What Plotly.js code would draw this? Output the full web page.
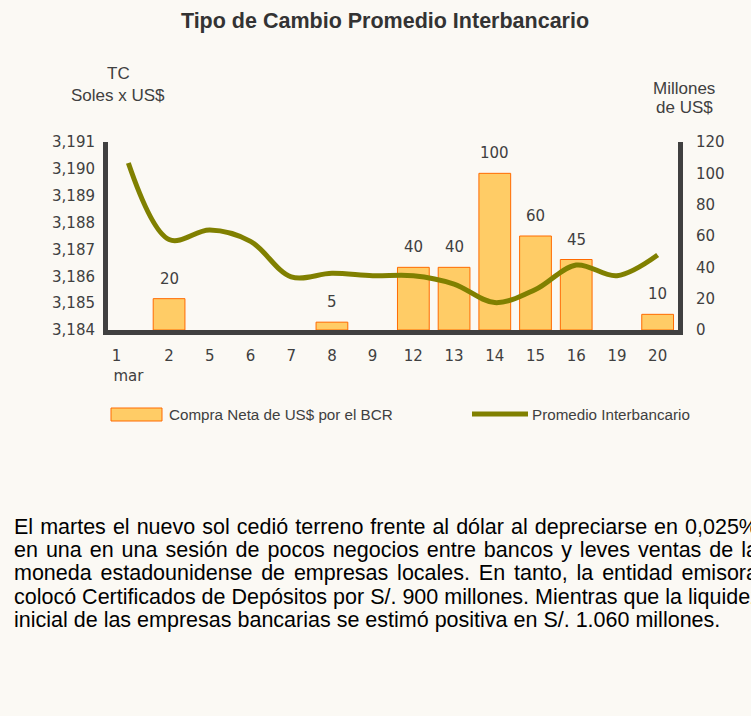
<!DOCTYPE html>
<html>
<head>
<meta charset="utf-8">
<script src="https://cdn.plot.ly/plotly-3.0.1.min.js"></script>
<style>
html,body{margin:0;padding:0;background:#fbf9f4;}
#chart{width:751px;height:716px;}
</style>
</head>
<body>
<div id="chart"></div>
<script>
// ---- data ----
const days = ["1","2","5","6","7","8","9","12","13","14","15","16","19","20"];
const dayLabels = ["1\u00a0\u00a0\u00a0\u00a0\u00a0<br>mar","2","5","6","7","8","9","12","13","14","15","16","19","20"];
const compraNeta = [0,20,0,0,0,5,0,40,40,100,60,45,0,10];
const promedio = [3.19022,3.18737,3.18772,3.18730,3.18598,3.18611,3.18602,3.18602,3.18571,3.18502,3.18551,3.18642,3.18602,3.18679];
const tcTicks = [3.184,3.185,3.186,3.187,3.188,3.189,3.190,3.191];
const tcTickText = ["3,184","3,185","3,186","3,187","3,188","3,189","3,190","3,191"];
const paragraph = [
  "El martes el nuevo sol cedió terreno frente al dólar al depreciarse en 0,025%",
  "en una en una sesión de pocos negocios entre bancos y leves ventas de la",
  "moneda estadounidense de empresas locales. En tanto, la entidad emisora",
  "colocó Certificados de Depósitos por S/. 900 millones. Mientras que la liquidez",
  "inicial de las empresas bancarias se estimó positiva en S/. 1.060 millones."
];

// ---- layout helpers ----
const L=108, R=678, T=142, B=330;
const px = p => (p-L)/(R-L);
const py = q => (B-q)/(B-T);
const tickFont = {family:"DejaVu Sans, Verdana, sans-serif", size:15, color:"#404040"};
const arial = "Liberation Sans, Arial, sans-serif";

const bars = {
  type:"bar", x:days, y:compraNeta.map(v => v > 0 ? v : null), yaxis:"y", xaxis:"x",
  marker:{color:"#ffcc66", line:{color:"#ff6a00", width:1}},
  width:0.78, hoverinfo:"skip", showlegend:false
};
const line = {
  type:"scatter", mode:"lines", x:days, y:promedio, yaxis:"y2", xaxis:"x",
  line:{color:"#808000", width:5, shape:"spline", smoothing:1},
  hoverinfo:"skip", showlegend:false
};

const annotations = [];
days.forEach((d,i)=>{
  if (compraNeta[i] > 0) {
    annotations.push({x:i, y:compraNeta[i], xref:"x", yref:"y", text:String(compraNeta[i]),
      showarrow:false, yanchor:"bottom", yshift:9, font:tickFont});
  }
});
const axTitleFont = {family:arial, size:17, color:"#404040"};
annotations.push({xref:"paper", yref:"paper", x:px(118), y:py(73), text:"TC",
  showarrow:false, xanchor:"center", yanchor:"middle", font:axTitleFont});
annotations.push({xref:"paper", yref:"paper", x:px(118), y:py(96), text:"Soles x US$",
  showarrow:false, xanchor:"center", yanchor:"middle", font:axTitleFont});
annotations.push({xref:"paper", yref:"paper", x:px(684), y:py(88), text:"Millones",
  showarrow:false, xanchor:"center", yanchor:"middle", font:axTitleFont});
annotations.push({xref:"paper", yref:"paper", x:px(684), y:py(107), text:"de US$",
  showarrow:false, xanchor:"center", yanchor:"middle", font:axTitleFont});
const legFont = {family:arial, size:15.2, color:"#404040"};
annotations.push({xref:"paper", yref:"paper", x:px(167), y:py(414), text:"Compra Neta de US$ por el BCR",
  showarrow:false, xanchor:"left", yanchor:"middle", font:legFont});
annotations.push({xref:"paper", yref:"paper", x:px(530), y:py(414), text:"Promedio Interbancario",
  showarrow:false, xanchor:"left", yanchor:"middle", font:legFont});
const lineY = [527,550,573,597,620];
const paraStart = annotations.length;
paragraph.forEach((t,i)=>{
  annotations.push({xref:"paper", yref:"paper", x:px(12), y:py(lineY[i]), text:t,
    showarrow:false, xanchor:"left", yanchor:"middle", font:{family:arial, size:21.5, color:"#000000"}});
});

const shapes = [
  {type:"rect", xref:"paper", yref:"paper", x0:px(111), x1:px(162), y0:py(421), y1:py(408),
   fillcolor:"#ffcc66", line:{color:"#ff6a00", width:1}},
  {type:"line", xref:"paper", yref:"paper", x0:px(472), x1:px(528), y0:py(414), y1:py(414),
   line:{color:"#808000", width:5}}
];

const layout = {
  width:751, height:716,
  margin:{l:L, r:751-R, t:T, b:716-B, pad:0},
  paper_bgcolor:"#fbf9f4", plot_bgcolor:"#fbf9f4",
  title:{text:"<b>Tipo de Cambio Promedio Interbancario</b>", x:385/751, xanchor:"center",
    y:1-20/716, yanchor:"middle", font:{family:arial, size:21.5, color:"#333333"}},
  xaxis:{type:"category", tickmode:"array", tickvals:days, ticktext:dayLabels,
    showline:true, linecolor:"#404040", linewidth:5, showgrid:false, zeroline:false,
    ticks:"", tickfont:tickFont, ticklabelstandoff:8, range:[-0.5, days.length-0.5]},
  yaxis:{side:"right", range:[0,120], dtick:20, tick0:0, showline:true, linecolor:"#404040", linewidth:5,
    showgrid:false, zeroline:false, ticks:"", tickfont:tickFont, ticklabelstandoff:10},
  yaxis2:{overlaying:"y", side:"left", range:[3.184,3.191], tickmode:"array", tickvals:tcTicks,
    ticktext:tcTickText, showline:true, linecolor:"#404040", linewidth:5, showgrid:false, zeroline:false,
    ticks:"", tickfont:tickFont, ticklabelstandoff:5},
  bargap:0.2,
  showlegend:false,
  annotations:annotations,
  shapes:shapes
};

Plotly.newPlot("chart", [bars, line], layout, {staticPlot:true, displayModeBar:false}).then(gd => {
  // justify the first four paragraph lines (as in the original text block)
  const rightEdge = 756, leftEdge = 12;
  const groups = gd.querySelectorAll("g.annotation");
  groups.forEach(g => {
    const idx = parseInt(g.getAttribute("data-index"), 10);
    const li = idx - paraStart;
    if (li < 0 || li > 3) return;
    const txt = g.querySelector("text.annotation-text");
    if (!txt) return;
    const b0 = txt.getBoundingClientRect();
    const spaces = (paragraph[li].match(/ /g) || []).length;
    const extra = (rightEdge - leftEdge) - b0.width;
    if (extra <= 0 || spaces === 0) return;
    txt.style.wordSpacing = (extra / spaces) + "px";
    const b1 = txt.getBoundingClientRect();
    const dx = b0.left - b1.left;
    const nodes = [txt, ...txt.querySelectorAll("tspan[x]")];
    nodes.forEach(n => {
      const xv = n.getAttribute("x");
      if (xv !== null) n.setAttribute("x", parseFloat(xv) + dx);
    });
  });
});
</script>
</body>
</html>
